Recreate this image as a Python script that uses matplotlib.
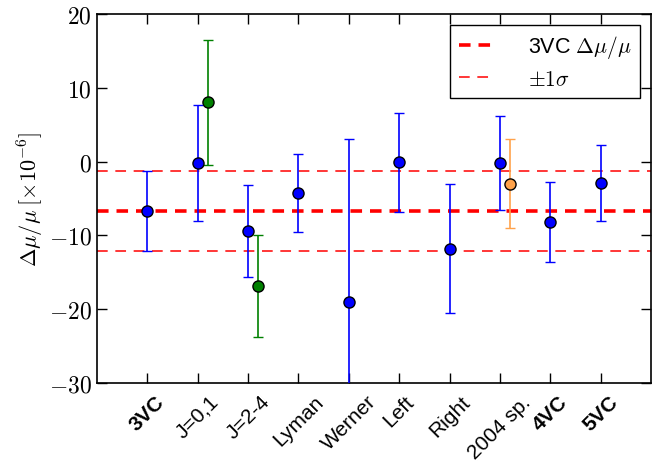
import matplotlib
matplotlib.use("Agg")
import matplotlib.pyplot as plt
from matplotlib.ticker import FuncFormatter
import numpy as np

plt.rcParams['font.family'] = ['Liberation Sans', 'DejaVu Sans']
plt.rcParams['mathtext.fontset'] = 'cm'

labels = ['3VC', 'J=0,1', 'J=2-4', 'Lyman', 'Werner', 'Left', 'Right', '2004 sp.', '4VC', '5VC']
bold_labels = ['3VC', '4VC', '5VC']
blue_y = [-6.7, -0.2, -9.4, -4.3, -19.0, -0.1, -11.8, -0.2, -8.2, -2.9]
blue_err = [5.4, 7.9, 6.2, 5.3, 22.0, 6.7, 8.7, 6.4, 5.4, 5.2]
green_idx = [1, 2]
green_y = [8.0, -16.8]
green_err = [8.5, 6.9]
orange_idx = [7]
orange_y = [-3.0]
orange_err = [6.0]
mean_val = -6.7
sigma_val = 5.4

fig = plt.figure(figsize=(6.59, 4.64), dpi=100)
ax = fig.add_axes([0.147, 0.172, 0.841, 0.796])

pos = np.arange(1, len(labels) + 1)
offset = 0.2

l1 = ax.axhline(mean_val, color='red', lw=2.6, ls='--', dashes=(3.2, 2.2), label=r'3VC $\Delta\mu/\mu$', zorder=1)
l2 = ax.axhline(mean_val + sigma_val, color='red', lw=1.1, ls='--', dashes=(7, 5), label=r'$\pm1\sigma$', zorder=1)
ax.axhline(mean_val - sigma_val, color='red', lw=1.1, ls='--', dashes=(7, 5), zorder=1)

ekw = dict(fmt='o', ms=8, mec='black', mew=1.0, elinewidth=1.2, capsize=3.5, capthick=1.2, zorder=3)
ax.errorbar(pos, blue_y, yerr=blue_err, color='blue', mfc='blue', ecolor='blue', **ekw)
ax.errorbar(pos[green_idx] + offset, green_y, yerr=green_err, color='green', mfc='green', ecolor='green', **ekw)
ax.errorbar(pos[orange_idx] + offset, orange_y, yerr=orange_err, color='#FFA24A', mfc='#FFA24A', ecolor='#FFA24A', **ekw)

ax.set_xlim(0, 11)
ax.set_ylim(-30, 20)
ax.set_xticks(pos)
ax.set_xticklabels(labels, rotation=45, ha='center', fontsize=15)
for t in ax.get_xticklabels():
    if t.get_text() in bold_labels:
        t.set_fontweight('bold')
ax.set_yticks([-30, -20, -10, 0, 10, 20])
ax.yaxis.set_major_formatter(FuncFormatter(lambda v, p: r'$%d$' % v))
ax.tick_params(axis='y', labelsize=17)
ax.tick_params(direction='in', length=7, width=1, top=True, right=True)
ax.tick_params(axis='x', pad=6)
for s in ax.spines.values():
    s.set_linewidth(1.2)

ax.set_ylabel(r'$\Delta\mu/\mu\;[\times 10^{-6}]$', fontsize=16, labelpad=2)

leg = ax.legend(handles=[l1, l2], loc='upper right', fancybox=False, framealpha=1,
                edgecolor='black', fontsize=15.5, handlelength=1.6, borderpad=0.4,
                labelspacing=0.4, handletextpad=1.6, borderaxespad=0.5)
leg.get_frame().set_linewidth(1.0)

fig.savefig('out.png', dpi=100)
